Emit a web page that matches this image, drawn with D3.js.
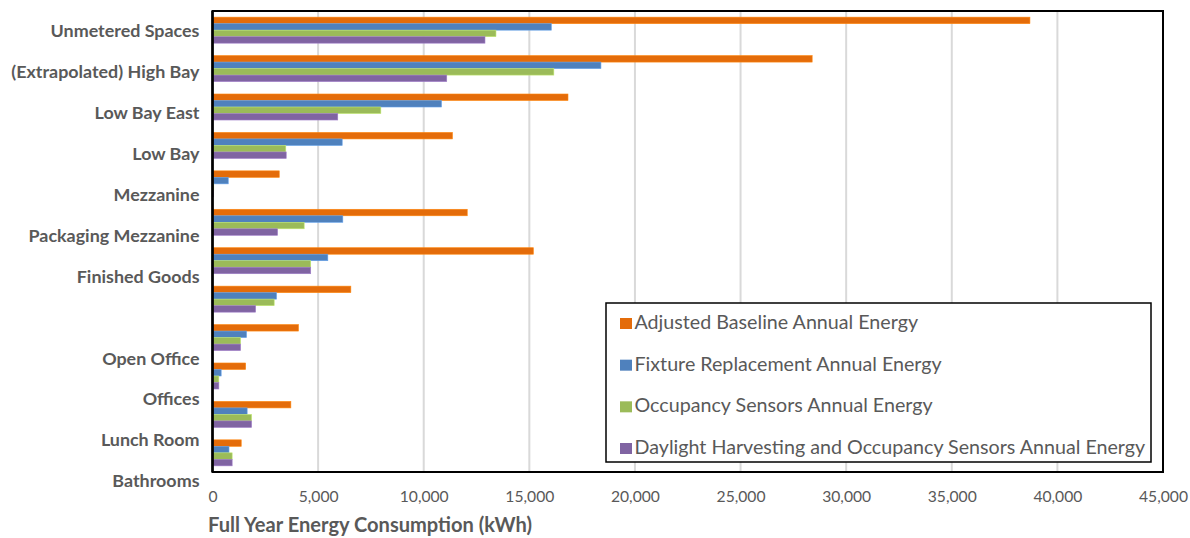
<!DOCTYPE html>
<html>
<head>
<meta charset="utf-8">
<script src="https://cdn.jsdelivr.net/npm/d3@7"></script>
<style>
  html, body { margin: 0; padding: 0; background: #ffffff; }
  svg { display: block; }
</style>
</head>
<body>
<svg id="chart" width="1190" height="538"></svg>
<script>
// ---------------- DATA ----------------
const categories = [
  "Unmetered Spaces", "(Extrapolated) High Bay", "Low Bay East", "Low Bay",
  "Mezzanine", "Packaging Mezzanine", "Finished Goods", "",
  "Open Office", "Offices", "Lunch Room", "Bathrooms"
];
const seriesNames = [
  "Adjusted Baseline Annual Energy",
  "Fixture Replacement Annual Energy",
  "Occupancy Sensors Annual Energy",
  "Daylight Harvesting and Occupancy Sensors Annual Energy"
];
const adjustedBaseline   = [38700, 28390, 16830, 11360, 3160, 12060, 15190, 6550, 4070, 1570, 3710, 1360];
const fixtureReplacement = [16040, 18390, 10840, 6140, 745, 6170, 5460, 3030, 1610, 410, 1640, 780];
const occupancySensors   = [13420, 16160, 7970, 3470, 60, 4340, 4650, 2920, 1330, 300, 1850, 930];
const daylightOccupancy  = [12900, 11090, 5930, 3490, 50, 3080, 4650, 2040, 1330, 300, 1850, 930];
const xTicks = [0, 5000, 10000, 15000, 20000, 25000, 30000, 35000, 40000, 45000];
const xTitle = "Full Year Energy Consumption (kWh)";
const seriesColors = ["#E46C0A", "#4F81BD", "#9BBB59", "#8064A2"];

const seriesValues = [adjustedBaseline, fixtureReplacement, occupancySensors, daylightOccupancy];

// ---------------- LAYOUT ----------------
const svg = d3.select("#chart");
const plot = { left: 212.5, top: 11, right: 1163, bottom: 472 };
const FONT = "Lato, 'Open Sans', 'DejaVu Sans', sans-serif";
const textGray = "#595959";

function fitSize(text, weight, target) {
  const t = svg.append("text").attr("font-family", FONT).attr("font-weight", weight)
    .attr("font-size", 100).text(text);
  const w = t.node().getComputedTextLength();
  t.remove();
  return 100 * target / w;
}
const catSize = fitSize("Unmetered Spaces", 700, 149);
const tickSize = fitSize("10,000", 400, 49);
const titleSize = fitSize(xTitle, 700, 324);
const legendSize = fitSize(seriesNames[3], 400, 511);

const x = d3.scaleLinear().domain([0, 45000]).range([plot.left, plot.right]);
const yGroup = d3.scaleBand().domain(categories).range([plot.top, plot.bottom])
  .paddingInner(0.323).paddingOuter(0.16);
const yInner = d3.scaleBand().domain(d3.range(seriesNames.length)).range([0, yGroup.bandwidth()]);
const yLabel = d3.scaleBand().domain(categories).range([11, 502]);

// gridlines
svg.append("g").selectAll("line").data(xTicks.slice(1)).join("line")
  .attr("x1", d => x(d)).attr("x2", d => x(d))
  .attr("y1", plot.top).attr("y2", plot.bottom)
  .attr("stroke", "#d9d9d9").attr("stroke-width", 2);

// bars
const groups = svg.append("g").selectAll("g").data(categories).join("g")
  .attr("transform", d => `translate(0,${yGroup(d)})`);
groups.selectAll("rect")
  .data((d, i) => seriesValues.map((vals, s) => ({ s, v: vals[i] })))
  .join("rect")
  .attr("x", x(0))
  .attr("y", d => yInner(d.s))
  .attr("width", d => x(d.v) - x(0))
  .attr("height", yInner.bandwidth())
  .attr("fill", d => seriesColors[d.s])
  .attr("stroke", d => d3.color(seriesColors[d.s]).brighter(0.6))
  .attr("stroke-width", 0.6);

// plot frame
svg.append("rect")
  .attr("x", plot.left).attr("y", plot.top)
  .attr("width", plot.right - plot.left).attr("height", plot.bottom - plot.top)
  .attr("fill", "none").attr("stroke", "#000").attr("stroke-width", 2);
svg.append("line").attr("x1", plot.left).attr("x2", plot.left)
  .attr("y1", plot.top).attr("y2", plot.bottom)
  .attr("stroke", "#000").attr("stroke-width", 2.5);

// x axis
const xAxis = svg.append("g").attr("transform", `translate(0,${plot.bottom})`)
  .call(d3.axisBottom(x).tickValues(xTicks).tickFormat(d3.format(",")).tickSize(0).tickPadding(19));
xAxis.select(".domain").remove();
xAxis.selectAll("text").attr("font-family", FONT).attr("font-size", tickSize)
  .attr("fill", textGray);

// y axis (category labels)
const yAxis = svg.append("g").attr("transform", `translate(${plot.left},0)`)
  .call(d3.axisLeft(yLabel).tickSize(0).tickPadding(13));
yAxis.select(".domain").remove();
yAxis.selectAll("text").attr("font-family", FONT).attr("font-weight", 700)
  .attr("font-size", catSize).attr("fill", textGray);

// x title
svg.append("text").attr("x", 208).attr("y", 525).attr("dy", "0.35em")
  .attr("font-family", FONT).attr("font-weight", 700).attr("font-size", titleSize)
  .attr("fill", textGray).text(xTitle);

// legend
const legend = svg.append("g");
legend.append("rect").attr("x", 606).attr("y", 303).attr("width", 545).attr("height", 159)
  .attr("fill", "#fff").attr("stroke", "#000").attr("stroke-width", 1.5);
const legY = d3.scalePoint().domain(d3.range(seriesNames.length)).range([322, 447]);
const items = legend.selectAll("g.item").data(seriesNames).join("g").attr("class", "item")
  .attr("transform", (d, i) => `translate(0,${legY(i)})`);
items.append("rect").attr("x", 620).attr("y", -4).attr("width", 12).attr("height", 11)
  .attr("fill", (d, i) => seriesColors[i]);
items.append("text").attr("x", 634.5).attr("y", 0).attr("dy", "0.35em")
  .attr("font-family", FONT).attr("font-size", legendSize).attr("fill", textGray)
  .text(d => d);
</script>
</body>
</html>
